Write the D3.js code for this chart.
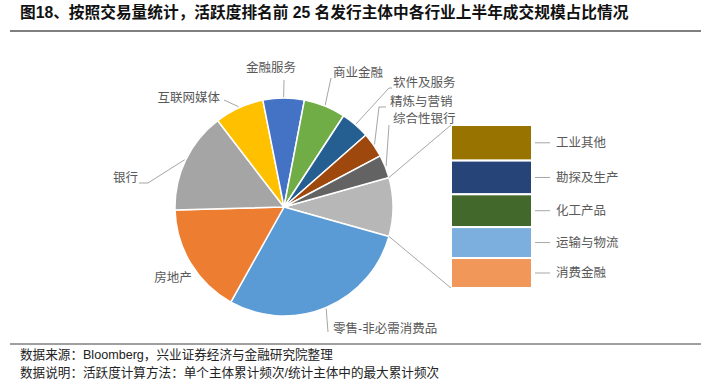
<!DOCTYPE html>
<html><head><meta charset="utf-8">
<script src="https://cdn.jsdelivr.net/npm/d3@7"></script>
<style>
body{margin:0;background:#fff;}
svg{display:block;font-family:"Liberation Sans","Noto Sans CJK SC",sans-serif;}
</style></head>
<body>
<svg id="c" width="709" height="381"></svg>
<script>
// ---- data ----
const pieLabels = ["零售-非必需消费品","房地产","银行","互联网媒体","金融服务","商业金融","软件及服务","精炼与营销","综合性银行"];
const pieValues = [28.7,16.4,15.0,7.3,6.1,6.2,4.3,3.7,3.4];
const barLabels = ["工业其他","勘探及生产","化工产品","运输与物流","消费金融"];
const barValues = [1.9,1.8,1.75,1.65,1.6];
const pieColors = ["#5B9BD5","#ED7D31","#A5A5A5","#FFC000","#4472C4","#70AD47","#255E91","#9E480E","#636363"];
const otherColor = "#B7B7B7";
const barColors = ["#997300","#264478","#43682B","#7CAFDD","#F1975A"];

// ---- layout ----
const svg = d3.select("#c");
const cx = 284, cy = 207, R = 109;
const labelCol = "#595959", leadCol = "#A6A6A6";

// title
svg.append("text").attr("x",20).attr("y",18).attr("font-size",15.7).attr("font-weight","bold")
  .attr("fill","#111").text("图18、按照交易量统计，活跃度排名前 25 名发行主体中各行业上半年成交规模占比情况");
svg.append("line").attr("x1",10).attr("x2",701).attr("y1",31).attr("y2",31).attr("stroke","#7f7f7f").attr("stroke-width",2);

const otherSum = d3.sum(barValues);
const total = otherSum + d3.sum(pieValues);
const otherAng = otherSum/total*2*Math.PI;
const start = Math.PI/2 - otherAng/2;
const pieData = [{label:"其他",value:otherSum,color:otherColor}]
  .concat(pieLabels.map((l,i)=>({label:l,value:pieValues[i],color:pieColors[i]})));
const arcs = d3.pie().sort(null).value(d=>d.value).startAngle(start).endAngle(start+2*Math.PI)(pieData);
const arc = d3.arc().innerRadius(0).outerRadius(R);
const g = svg.append("g").attr("transform",`translate(${cx},${cy})`);
g.selectAll("path").data(arcs).join("path").attr("d",arc)
  .attr("fill",d=>d.data.color).attr("stroke","#fff").attr("stroke-width",1.5).attr("stroke-linejoin","round");

const pt = (a,r)=>[cx+r*Math.sin(a), cy-r*Math.cos(a)];

// pie labels: text position and leader elbow points
const pieLayout = {
  "零售-非必需消费品":{x:333,y:329,anchor:"start",pts:[[328,332]]},
  "房地产":{x:173,y:278,anchor:"middle",pts:null},
  "银行":{x:138,y:178,anchor:"end",pts:[[148,183],[139,183]]},
  "互联网媒体":{x:220,y:98,anchor:"end",pts:[[224,100]]},
  "金融服务":{x:271,y:68,anchor:"middle",pts:[[284,80]]},
  "商业金融":{x:333,y:73,anchor:"start",pts:[[331,78]]},
  "软件及服务":{x:393,y:83,anchor:"start",pts:[[389,88],[392,88]]},
  "精炼与营销":{x:390,y:102,anchor:"start",pts:[[379,107],[386,107]]},
  "综合性银行":{x:393,y:119,anchor:"start",pts:[[389,125]]}
};
arcs.slice(1).forEach(a=>{
  const L = pieLayout[a.data.label];
  const mid = (a.startAngle+a.endAngle)/2;
  if(L.pts){
    const p0 = pt(mid,R+1);
    svg.append("path").attr("d",d3.line()([p0].concat(L.pts))).attr("fill","none")
      .attr("stroke",leadCol).attr("stroke-width",1);
  }
  svg.append("text").attr("x",L.x).attr("y",L.y).attr("dy","0.35em").attr("text-anchor",L.anchor)
    .attr("font-size",12.5).attr("fill",labelCol).text(a.data.label);
});

// bar of pie
const bx = 451, bw = 81, bTop = 125, bBot = 288;
const y = d3.scaleLinear().domain([0,otherSum]).range([bTop,bBot]);
let acc = 0;
const stack = barValues.map((v,i)=>{const s=acc; acc+=v; return {label:barLabels[i],y0:s,y1:acc,color:barColors[i]};});
svg.selectAll("rect.bar").data(stack).join("rect").attr("class","bar")
  .attr("x",bx).attr("width",bw).attr("y",d=>y(d.y0)).attr("height",d=>y(d.y1)-y(d.y0))
  .attr("fill",d=>d.color).attr("stroke","#fff").attr("stroke-width",2);
stack.forEach(d=>{
  const ym = (y(d.y0)+y(d.y1))/2;
  svg.append("line").attr("x1",bx+bw+3).attr("x2",bx+bw+18).attr("y1",ym).attr("y2",ym)
    .attr("stroke",leadCol).attr("stroke-width",1);
  svg.append("text").attr("x",bx+bw+24).attr("y",ym).attr("dy","0.35em")
    .attr("font-size",12.5).attr("fill",labelCol).text(d.label);
});
// connectors
const o = arcs[0];
const pA = pt(o.startAngle,R), pB = pt(o.endAngle,R);
svg.append("line").attr("x1",pA[0]).attr("y1",pA[1]).attr("x2",bx).attr("y2",bTop).attr("stroke",leadCol).attr("stroke-width",1);
svg.append("line").attr("x1",pB[0]).attr("y1",pB[1]).attr("x2",bx).attr("y2",bBot).attr("stroke",leadCol).attr("stroke-width",1);

// footer
svg.append("line").attr("x1",10).attr("x2",701).attr("y1",344).attr("y2",344).attr("stroke","#404040").attr("stroke-width",1);
svg.append("text").attr("x",20).attr("y",359).attr("font-size",12.6).attr("fill","#222").text("数据来源：Bloomberg，兴业证券经济与金融研究院整理");
svg.append("text").attr("x",20).attr("y",377).attr("font-size",12.6).attr("fill","#222").text("数据说明：活跃度计算方法：单个主体累计频次/统计主体中的最大累计频次");
</script>
</body></html>
